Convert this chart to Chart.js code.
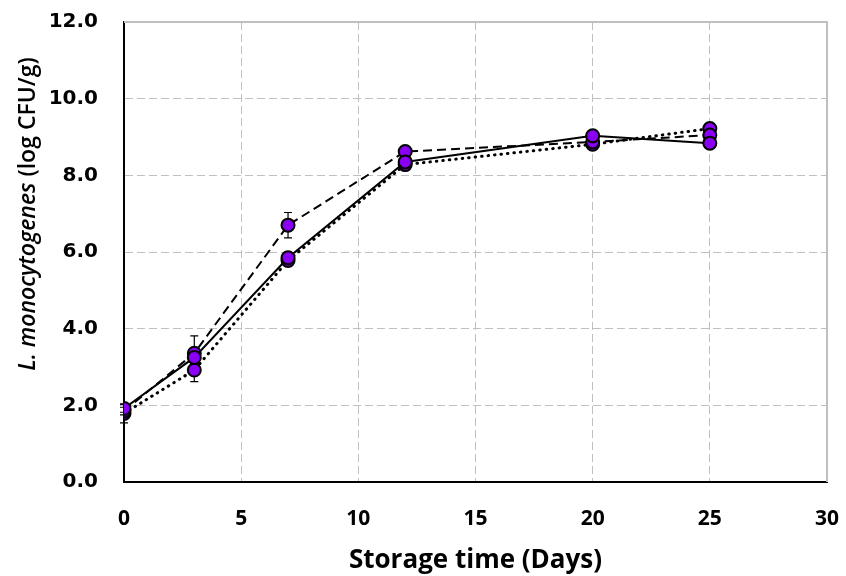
<!DOCTYPE html>
<html>
<head>
<meta charset="utf-8">
<script src="https://cdn.jsdelivr.net/npm/chart.js@4.4.0/dist/chart.umd.min.js"></script>
<style>
  html, body { margin: 0; padding: 0; background: #fff; }
  #wrap { width: 846px; height: 576px; }
</style>
</head>
<body>
<div id="wrap"><canvas id="growthChart" width="846" height="576"></canvas></div>
<script>
// Storage days and L. monocytogenes counts (log CFU/g) for the three batches
const days = [0, 3, 7, 12, 20, 25];
const countsSolid = [1.92, 3.25, 5.85, 8.35, 9.03, 8.84];
const countsDashed = [1.85, 3.36, 6.70, 8.62, 8.87, 9.05];
const countsDotted = [1.79, 2.92, 5.78, 8.28, 8.81, 9.22];

// Standard deviations for the error bars
const sdSolid = [0.10, 0.15, 0.15, 0.10, 0.10, 0.10];
const sdDashed = [0.10, 0.45, 0.33, 0.10, 0.10, 0.10];
const sdDotted = [0.25, 0.30, 0.15, 0.10, 0.10, 0.10];

const xTicks = [0, 5, 10, 15, 20, 25, 30];
const yTicks = [0, 2, 4, 6, 8, 10, 12];

const MARKER = "#8a00f5";
const GRID = "#bfbfbf";

function toPoints(values) {
  return days.map((d, i) => ({ x: d, y: values[i] }));
}

function seriesStyle(dash, width, cap) {
  return {
    borderColor: "#000",
    borderWidth: width,
    borderDash: dash,
    borderCapStyle: cap,
    pointRadius: 6.5,
    pointHoverRadius: 6.5,
    pointBackgroundColor: MARKER,
    pointBorderColor: "#000",
    pointBorderWidth: 2,
    tension: 0,
    fill: false
  };
}

// Gray frame on the top and right of the plot area
const plotFrame = {
  id: "plotFrame",
  beforeDatasetsDraw(chart) {
    const { ctx, chartArea: a } = chart;
    ctx.save();
    ctx.strokeStyle = GRID;
    ctx.lineWidth = 2;
    ctx.beginPath();
    ctx.moveTo(a.left, a.top);
    ctx.lineTo(a.right, a.top);
    ctx.lineTo(a.right, a.bottom);
    ctx.stroke();
    ctx.restore();
  }
};

// Vertical error bars with small caps, drawn under the markers
const errorBars = {
  id: "errorBars",
  beforeDatasetsDraw(chart) {
    const { ctx, scales: { x, y } } = chart;
    ctx.save();
    ctx.strokeStyle = "#000";
    ctx.lineWidth = 1.2;
    chart.data.datasets.forEach(ds => {
      ds.data.forEach((p, i) => {
        const px = x.getPixelForValue(p.x);
        const top = y.getPixelForValue(p.y + ds.sd[i]);
        const bot = y.getPixelForValue(p.y - ds.sd[i]);
        ctx.beginPath();
        ctx.moveTo(px, top);
        ctx.lineTo(px, bot);
        ctx.moveTo(px - 4, top);
        ctx.lineTo(px + 4, top);
        ctx.moveTo(px - 4, bot);
        ctx.lineTo(px + 4, bot);
        ctx.stroke();
      });
    });
    ctx.restore();
  }
};

// Y axis title: italic species name followed by the unit
const yTitle = {
  id: "yTitle",
  afterDraw(chart) {
    const { ctx } = chart;
    const part1 = "L. monocytogenes";
    const part2 = " (log CFU/g)";
    const f1 = "italic 600 23px 'Open Sans'";
    const f2 = "600 23px 'Open Sans'";
    ctx.save();
    ctx.font = f1;
    const w1 = ctx.measureText(part1).width;
    ctx.font = f2;
    const w2 = ctx.measureText(part2).width;
    ctx.translate(28, 214);
    ctx.rotate(-Math.PI / 2);
    ctx.fillStyle = "#000";
    ctx.textBaseline = "middle";
    ctx.textAlign = "left";
    const start = -(w1 + w2) / 2;
    ctx.font = f1;
    ctx.fillText(part1, start, 0);
    ctx.font = f2;
    ctx.fillText(part2, start + w1, 0);
    ctx.restore();
  }
};

new Chart(document.getElementById("growthChart"), {
  type: "line",
  data: {
    datasets: [
      Object.assign({ label: "Batch 1", data: toPoints(countsSolid), sd: sdSolid }, seriesStyle([], 2, "butt")),
      Object.assign({ label: "Batch 2", data: toPoints(countsDashed), sd: sdDashed }, seriesStyle([9, 5], 2, "butt")),
      Object.assign({ label: "Batch 3", data: toPoints(countsDotted), sd: sdDotted }, seriesStyle([0.5, 6], 3, "round"))
    ]
  },
  options: {
    responsive: false,
    animation: false,
    devicePixelRatio: 1,
    layout: { padding: { top: 22, right: 19, left: 0, bottom: 0 } },
    plugins: {
      legend: { display: false },
      tooltip: { enabled: false }
    },
    scales: {
      x: {
        type: "linear",
        min: 0,
        max: 30,
        afterBuildTicks: s => { s.ticks = xTicks.map(v => ({ value: v })); },
        afterFit: s => {
          s.height = 94;
          s.paddingLeft = 0;
          s.paddingRight = 0;
        },
        ticks: {
          color: "#000",
          padding: 24,
          font: { family: "'Open Sans'", size: 21, weight: "bold" }
        },
        grid: { color: GRID, lineWidth: 1, drawTicks: false },
        border: { display: true, color: "#000", width: 2, dash: [8, 4] },
        title: {
          display: true,
          text: "Storage time (Days)",
          color: "#000",
          padding: { top: 0, bottom: 0 },
          font: { family: "'Open Sans'", size: 26, weight: "bold" }
        }
      },
      y: {
        type: "linear",
        min: 0,
        max: 12,
        afterBuildTicks: s => { s.ticks = yTicks.map(v => ({ value: v })); },
        afterFit: s => {
          s.width = 124;
          s.paddingTop = 0;
          s.paddingBottom = 0;
        },
        ticks: {
          color: "#000",
          padding: 26,
          font: { family: "'DejaVu Sans'", size: 20, weight: "bold" },
          callback: v => v.toFixed(1)
        },
        grid: { color: GRID, lineWidth: 1, drawTicks: false },
        border: { display: true, color: "#000", width: 2, dash: [8, 4] }
      }
    }
  },
  plugins: [plotFrame, errorBars, yTitle]
});
</script>
</body>
</html>
